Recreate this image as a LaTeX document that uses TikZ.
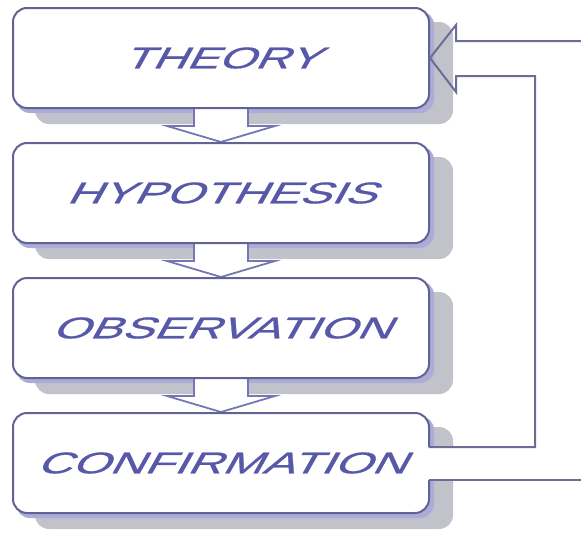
\documentclass[tikz,border=0pt]{standalone}
\usepackage{fontspec}
\newfontfamily\handfont[FakeSlant=0.35,FakeBold=0.6]{Liberation Sans}
\usetikzlibrary{calc}
\definecolor{bordc}{RGB}{98,98,148}
\definecolor{textc}{RGB}{88,88,168}
\definecolor{shadc}{RGB}{194,194,202}
\definecolor{rimc}{RGB}{172,172,215}
\definecolor{arrc}{RGB}{118,118,180}
\definecolor{fbc}{RGB}{108,108,150}
\pgfdeclarelayer{bglayer}
\pgfdeclarelayer{shadowlayer}
\pgfdeclarelayer{arrowlayer}
\pgfsetlayers{bglayer,shadowlayer,arrowlayer,main}
\begin{document}
\begin{tikzpicture}[x=1pt,y=-1pt,
  stagebox/.style={draw=bordc, line width=2pt, fill=white, rounded corners=14pt,
    minimum width=416pt, minimum height=100pt, inner sep=0pt,
    font=\handfont\fontsize{30}{30}\selectfont, text=textc},
  boxshadow/.style={fill=shadc, rounded corners=14pt},
  boxrim/.style={fill=rimc, rounded corners=14pt},
  blockarrow/.style={draw=arrc, line width=1.8pt, fill=white, line join=miter},
  feedback/.style={draw=fbc, line width=2pt, line join=miter}]
\useasboundingbox (0,0) rectangle (581,533);
\begin{pgfonlayer}{bglayer}
  \fill[white] (0,0) rectangle (581,533);
\end{pgfonlayer}

\node[stagebox] (theory) at (221,58)  {\scalebox{1.58}[1]{THEORY}};
\node[stagebox] (hyp)    at (221,193) {\scalebox{1.6}[1]{HYPOTHESIS}};
\node[stagebox] (obs)    at (221,328) {\scalebox{1.6}[1]{OBSERVATION}};
\node[stagebox] (conf)   at (221,463) {\scalebox{1.61}[1]{CONFIRMATION}};

\begin{pgfonlayer}{shadowlayer}
  \foreach \n in {theory,hyp,obs,conf}{
    \fill[boxshadow] ([shift={(23,15)}]\n.north west) rectangle ([shift={(23,15)}]\n.south east);
    \fill[boxrim] ([shift={(4,4)}]\n.north west) rectangle ([shift={(4,4)}]\n.south east);
  }
\end{pgfonlayer}

\begin{pgfonlayer}{arrowlayer}
  \foreach \a/\b in {theory/hyp,hyp/obs,obs/conf}
    \filldraw[blockarrow] ($(\a.south)+(-27,-3)$) -- ($(\b.north)+(-27,-16)$)
      -- ($(\b.north)+(-54,-16)$) -- (\b.north) -- ($(\b.north)+(54,-16)$)
      -- ($(\b.north)+(27,-16)$) -- ($(\a.south)+(27,-3)$);
\end{pgfonlayer}

\coordinate (outTop) at (581,41);
\coordinate (outBot) at (581,480);
\fill[white] ($(conf.east)+(-3,-16)$) rectangle (outBot);
\draw[feedback] ($(conf.east)+(-1.5,-16)$) -| ($(theory.east)+(105,18)$)
  -- ($(theory.east)+(26,18)$) -- ($(theory.east)+(26,34)$) -- (theory.east)
  -- ($(theory.east)+(26,-33)$) -- ($(theory.east)+(26,-17)$) -- (outTop);
\draw[feedback] ($(conf.east)+(-1.5,17)$) -- (outBot);
\end{tikzpicture}
\end{document}
